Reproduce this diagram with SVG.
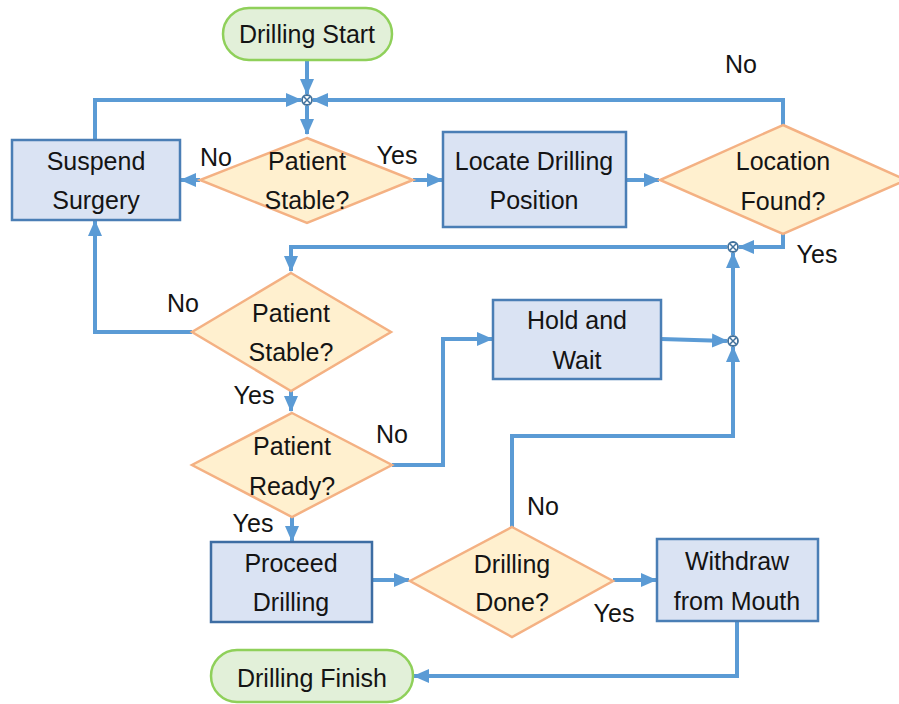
<svg xmlns="http://www.w3.org/2000/svg" width="899" height="704" viewBox="0 0 899 704">
  <style>
    .term { fill: #e2f0d9; stroke: #8fd05a; stroke-width: 2.5; }
    .proc { fill: #dae3f3; stroke: #4a7eb5; stroke-width: 2.5; }
    .dec { fill: #fff0cf; stroke: #f4b183; stroke-width: 2.5; }
    .lbl { font-family: "Liberation Sans", Arial, sans-serif; font-size: 25px; fill: #141414; text-anchor: middle; }
    .edge { fill: none; stroke: #5b9bd5; stroke-width: 4; }
    .sum { fill: #ffffff; stroke: #41719c; stroke-width: 1.8; }
  </style>
  <defs>
    <marker id="arrow" markerUnits="userSpaceOnUse" markerWidth="17" markerHeight="17" viewBox="0 0 17 17" refX="15" refY="8.5" orient="auto">
      <path d="M0,1.5 L16,8.5 L0,15.5 Z" fill="#5b9bd5"/>
    </marker>
    <g id="junction">
      <circle class="sum" r="5"/>
      <path d="M-3.2,-3.2 L3.2,3.2 M-3.2,3.2 L3.2,-3.2" stroke="#41719c" stroke-width="1.5"/>
    </g>
  </defs>

  <rect width="899" height="704" fill="#ffffff"/>

  <!-- connectors -->
  <g id="connectors">
    <path class="edge" d="M307,60 L307,94" marker-end="url(#arrow)"/>
    <path class="edge" d="M95,140 L95,100 L301,100" marker-end="url(#arrow)"/>
    <path class="edge" d="M783,125 L783,100 L313,100" marker-end="url(#arrow)"/>
    <path class="edge" d="M307,106 L307,134" marker-end="url(#arrow)"/>
    <path class="edge" d="M200,180 L181,180" marker-end="url(#arrow)"/>
    <path class="edge" d="M413,180 L442,180" marker-end="url(#arrow)"/>
    <path class="edge" d="M626,180 L659,180" marker-end="url(#arrow)"/>
    <path class="edge" d="M783,234 L783,247 L739,247" marker-end="url(#arrow)"/>
    <path class="edge" d="M727,247 L291,247 L291,271" marker-end="url(#arrow)"/>
    <path class="edge" d="M192,332 L95,332 L95,221" marker-end="url(#arrow)"/>
    <path class="edge" d="M291,391 L291,411" marker-end="url(#arrow)"/>
    <path class="edge" d="M392,465 L443,465 L443,339 L492,339" marker-end="url(#arrow)"/>
    <path class="edge" d="M661,339 L727,341" marker-end="url(#arrow)"/>
    <path class="edge" d="M733,335 L733,253" marker-end="url(#arrow)"/>
    <path class="edge" d="M512,527 L512,436 L733,436 L733,347" marker-end="url(#arrow)"/>
    <path class="edge" d="M292,517 L292,541" marker-end="url(#arrow)"/>
    <path class="edge" d="M372,580 L409,580" marker-end="url(#arrow)"/>
    <path class="edge" d="M613,580 L656,580" marker-end="url(#arrow)"/>
    <path class="edge" d="M737,621 L737,676 L414,676" marker-end="url(#arrow)"/>
    <use href="#junction" x="307" y="100"/>
    <use href="#junction" x="733" y="247"/>
    <use href="#junction" x="733" y="341"/>
  </g>

  <!-- branch labels -->
  <g id="branch-labels">
    <text class="lbl" x="216" y="166">No</text>
    <text class="lbl" x="397" y="164">Yes</text>
    <text class="lbl" x="741" y="73">No</text>
    <text class="lbl" x="817" y="263">Yes</text>
    <text class="lbl" x="183" y="312">No</text>
    <text class="lbl" x="254" y="404">Yes</text>
    <text class="lbl" x="392" y="443">No</text>
    <text class="lbl" x="253" y="532">Yes</text>
    <text class="lbl" x="543" y="515">No</text>
    <text class="lbl" x="614" y="622">Yes</text>
  </g>

  <g id="drilling-start">
    <rect class="term" x="223" y="8" width="169" height="52" rx="26"/>
    <text class="lbl" x="307" y="43">Drilling Start</text>
  </g>

  <g id="patient-stable-1">
    <polygon class="dec" points="307,138 413,180 307,223 200,180"/>
    <text class="lbl" x="307" y="170">Patient</text>
    <text class="lbl" x="307" y="209">Stable?</text>
  </g>

  <g id="suspend-surgery">
    <rect class="proc" x="12" y="140" width="168" height="80"/>
    <text class="lbl" x="96" y="170">Suspend</text>
    <text class="lbl" x="96" y="209">Surgery</text>
  </g>

  <g id="locate-position">
    <rect class="proc" x="443" y="132" width="183" height="95"/>
    <text class="lbl" x="534" y="170">Locate Drilling</text>
    <text class="lbl" x="534" y="209">Position</text>
  </g>

  <g id="location-found">
    <polygon class="dec" points="783,125 906,180 783,234 660,180"/>
    <text class="lbl" x="783" y="170">Location</text>
    <text class="lbl" x="783" y="210">Found?</text>
  </g>

  <g id="patient-stable-2">
    <polygon class="dec" points="291,273 391,332 291,391 192,332"/>
    <text class="lbl" x="291" y="322">Patient</text>
    <text class="lbl" x="291" y="361">Stable?</text>
  </g>

  <g id="patient-ready">
    <polygon class="dec" points="292,413 392,465 292,517 192,465"/>
    <text class="lbl" x="292" y="455">Patient</text>
    <text class="lbl" x="292" y="495">Ready?</text>
  </g>

  <g id="hold-wait">
    <rect class="proc" x="493" y="300" width="168" height="79"/>
    <text class="lbl" x="577" y="329">Hold and</text>
    <text class="lbl" x="577" y="369">Wait</text>
  </g>

  <g id="proceed-drilling">
    <rect class="proc" x="211" y="542" width="161" height="80" style="stroke:#3d6da3"/>
    <text class="lbl" x="291" y="572">Proceed</text>
    <text class="lbl" x="291" y="611">Drilling</text>
  </g>

  <g id="drilling-done">
    <polygon class="dec" points="512,527 613,581 512,637 410,581"/>
    <text class="lbl" x="512" y="573">Drilling</text>
    <text class="lbl" x="512" y="611">Done?</text>
  </g>

  <g id="withdraw">
    <rect class="proc" x="657" y="539" width="161" height="82"/>
    <text class="lbl" x="737" y="570">Withdraw</text>
    <text class="lbl" x="737" y="610">from Mouth</text>
  </g>

  <g id="drilling-finish">
    <rect class="term" x="211" y="650" width="202" height="52" rx="26"/>
    <text class="lbl" x="312" y="687">Drilling Finish</text>
  </g>
</svg>
